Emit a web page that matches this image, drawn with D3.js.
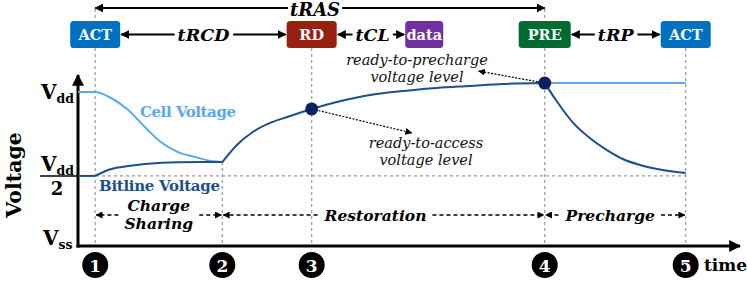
<!DOCTYPE html>
<html>
<head>
<meta charset="utf-8">
<script src="https://d3js.org/d3.v7.min.js"></script>
<style>
  body { margin: 0; padding: 0; background: #fff; }
  svg text { font-family: "DejaVu Serif", "Liberation Serif", serif; }
  .guide { stroke: #9a9a9a; stroke-width: 1.2; stroke-dasharray: 3,3; fill: none; }
  .axis { stroke: #000; stroke-width: 3; fill: none; }
</style>
</head>
<body>
<div id="chart"></div>
<script>
// time of each numbered event (0..100 along the time axis)
var eventTimes = [2.6, 21.8, 35.3, 70.5, 91.8];
var eventLabels = ["1", "2", "3", "4", "5"];

// DRAM commands on top
var commandNames = ["ACT", "RD", "data", "PRE", "ACT"];
var commandTimes = [2.6, 35.3, 52.3, 70.5, 91.8];

// timing parameters: [label, from command index, to command index]
var timingNames = ["tRCD", "tCL", "tRP"];
var timingFrom = [0, 1, 3];
var timingTo = [1, 2, 4];

// phases between events
var phaseNames = [["Charge", "Sharing"], ["Restoration"], ["Precharge"]];
var phaseFrom = [0, 1, 3];
var phaseTo = [1, 3, 4];

// voltage levels (Vss = 0, Vdd = 1)
var levelVss = 0, levelHalf = 0.455, levelVdd = 1;

// cell voltage during charge sharing
var cellT = [0, 2.6, 5.0, 7.6, 10.1, 12.5, 15.1, 17.7, 20.1, 21.8];
var cellV = [1.0, 1.0, 0.961, 0.883, 0.773, 0.675, 0.610, 0.578, 0.552, 0.545];
// bitline voltage: precharged level, then charge sharing
var bitFlatT = [0, 2.6];
var bitFlatV = [0.455, 0.455];
var bitT = [2.6, 5.0, 7.6, 10.1, 15.1, 21.8];
var bitV = [0.455, 0.5, 0.519, 0.532, 0.544, 0.545];
// restoration (cell and bitline together)
var restoreT = [21.8, 24.0, 26.4, 29.0, 31.6, 35.3, 39.1, 44.1, 49.1, 54.2, 59.2, 64.2, 70.5];
var restoreV = [0.545, 0.656, 0.740, 0.799, 0.838, 0.890, 0.935, 0.981, 1.006, 1.026, 1.039, 1.052, 1.058];
// precharge: bitline falls, cell holds
var prechT = [70.5, 72.4, 74.8, 77.3, 79.9, 82.3, 84.9, 87.5, 91.8];
var prechBitV = [1.058, 0.935, 0.799, 0.701, 0.623, 0.565, 0.526, 0.500, 0.474];
var holdT = [70.5, 91.8];
var holdV = [1.058, 1.058];

var width = 747, height = 281;

var x = d3.scaleLinear().domain([0, 100]).range([78, 740]);
var y = d3.scaleLinear().domain([0, 1]).range([246, 92]);

var cmdColor = { ACT: "#0070c0", RD: "#992010", data: "#7030a0", PRE: "#006b2e" };
var cmdWidth = { ACT: 50, RD: 50, data: 38, PRE: 52 };
var cellColor = "#5aa9f0", bitColor = "#1d4f8c", dotColor = "#0b2262";

var svg = d3.select("#chart").append("svg")
  .attr("width", width)
  .attr("height", height);

var defs = svg.append("defs");
function marker(id, size) {
  defs.append("marker")
    .attr("id", id)
    .attr("viewBox", "0 0 10 10")
    .attr("refX", 9).attr("refY", 5)
    .attr("markerWidth", size).attr("markerHeight", size)
    .attr("markerUnits", "userSpaceOnUse")
    .attr("orient", "auto-start-reverse")
    .append("path")
    .attr("d", "M0,0L10,5L0,10z")
    .attr("fill", "#000");
}
marker("arr", 9);
marker("arrS", 7);
marker("arrAxis", 12);

function zip(ts, vs) { return ts.map(function(t, i) { return [t, vs[i]]; }); }

var line = d3.line()
  .curve(d3.curveMonotoneX)
  .x(function(d) { return x(d[0]); })
  .y(function(d) { return y(d[1]); });

// vertical guides
var boxBottom = 48;
eventTimes.forEach(function(t, i) {
  var top = boxBottom;
  if (i == 1) top = y(cellV[cellV.length - 1]);
  svg.append("line").attr("class", "guide")
    .attr("x1", x(t)).attr("x2", x(t))
    .attr("y1", top).attr("y2", y(levelVss));
  if (i == 0 || i == 3) {
    svg.append("line").attr("class", "guide")
      .attr("x1", x(t)).attr("x2", x(t))
      .attr("y1", 9).attr("y2", 21);
  }
});
// Vdd/2 level
svg.append("line").attr("class", "guide")
  .attr("x1", x(0)).attr("x2", x(eventTimes[4]))
  .attr("y1", y(levelHalf)).attr("y2", y(levelHalf));

// axes
svg.append("line").attr("class", "axis")
  .attr("x1", x(0)).attr("x2", x(0))
  .attr("y1", y(levelVss) + 1.5).attr("y2", y(1.11))
  .attr("marker-end", "url(#arrAxis)");
svg.append("line").attr("class", "axis")
  .attr("x1", x(0) - 1.5).attr("x2", x(100))
  .attr("y1", y(levelVss)).attr("y2", y(levelVss))
  .attr("marker-end", "url(#arrAxis)");

// curves
function curve(ts, vs, color) {
  svg.append("path").datum(zip(ts, vs)).attr("d", line)
    .attr("fill", "none").attr("stroke", color).attr("stroke-width", 2);
}
curve(cellT, cellV, cellColor);
curve(holdT, holdV, cellColor);
curve(bitFlatT, bitFlatV, bitColor);
curve(bitT, bitV, bitColor);
curve(restoreT, restoreV, bitColor);
curve(prechT, prechBitV, bitColor);

// annotation arrows
var p3 = [x(eventTimes[2]), y(restoreV[5])];
var p4 = [x(eventTimes[3]), y(restoreV[restoreV.length - 1])];
svg.append("line")
  .attr("x1", p3[0]).attr("y1", p3[1]).attr("x2", p3[0] + 100).attr("y2", p3[1] + 24)
  .attr("stroke", "#000").attr("stroke-width", 1.2).attr("stroke-dasharray", "2,1.5")
  .attr("marker-end", "url(#arrS)");
svg.append("line")
  .attr("x1", p4[0]).attr("y1", p4[1]).attr("x2", p4[0] - 66).attr("y2", p4[1] - 12)
  .attr("stroke", "#000").attr("stroke-width", 1.2).attr("stroke-dasharray", "2,1.5")
  .attr("marker-end", "url(#arrS)");

// dots
[p3, p4].forEach(function(p) {
  svg.append("circle").attr("cx", p[0]).attr("cy", p[1]).attr("r", 6.5).attr("fill", dotColor);
});

function itext(txt, cx, base) {
  svg.append("text").attr("x", cx).attr("y", base)
    .attr("text-anchor", "middle").attr("font-style", "italic")
    .attr("font-size", 14.5).attr("fill", "#111").text(txt);
}
itext("ready-to-precharge", 417, 65);
itext("voltage level", 417, 82);
itext("ready-to-access", 426, 148);
itext("voltage level", 426, 165);

// curve labels
svg.append("text").attr("x", 140).attr("y", 117)
  .attr("font-weight", "bold").attr("font-size", 15).attr("fill", cellColor)
  .attr("textLength", 96).text("Cell Voltage");
svg.append("text").attr("x", 99).attr("y", 191)
  .attr("font-weight", "bold").attr("font-size", 15).attr("fill", bitColor)
  .attr("textLength", 121).text("Bitline Voltage");

// command boxes
var boxY = 21, boxH = 27;
var boxes = svg.selectAll(".cmd")
  .data(commandNames.map(function(n, i) { return { name: n, t: commandTimes[i] }; }))
  .enter().append("g").attr("class", "cmd")
  .attr("transform", function(d) { return "translate(" + x(d.t) + "," + boxY + ")"; });
boxes.append("rect")
  .attr("x", function(d) { return -cmdWidth[d.name] / 2; })
  .attr("width", function(d) { return cmdWidth[d.name]; })
  .attr("height", boxH).attr("rx", 3.5)
  .attr("fill", function(d) { return cmdColor[d.name]; });
boxes.append("text")
  .attr("y", 19).attr("text-anchor", "middle")
  .attr("font-weight", "bold").attr("font-size", 14.5).attr("fill", "#fff")
  .text(function(d) { return d.name; });

// timing arrows between boxes
var tY = 34.5;
timingNames.forEach(function(name, i) {
  var a = commandNames[timingFrom[i]], b = commandNames[timingTo[i]];
  var x1 = x(commandTimes[timingFrom[i]]) + cmdWidth[a] / 2 + 1;
  var x2 = x(commandTimes[timingTo[i]]) - cmdWidth[b] / 2 - 1;
  var cx = (x1 + x2) / 2;
  if (name == "tCL") cx = x1 + 35;
  var t = svg.append("text").attr("x", cx).attr("y", tY + 6.5)
    .attr("text-anchor", "middle").attr("font-weight", "bold").attr("font-style", "italic")
    .attr("font-size", 17.5).text(name);
  var bb = t.node().getBBox();
  svg.append("line").attr("x1", bb.x - 3).attr("x2", x1).attr("y1", tY).attr("y2", tY)
    .attr("stroke", "#000").attr("stroke-width", 2).attr("marker-end", "url(#arr)");
  svg.append("line").attr("x1", bb.x + bb.width + 3).attr("x2", x2).attr("y1", tY).attr("y2", tY)
    .attr("stroke", "#000").attr("stroke-width", 2).attr("marker-end", "url(#arr)");
});

// tRAS
(function() {
  var x1 = x(eventTimes[0]), x2 = x(eventTimes[3]), yy = 8;
  var t = svg.append("text").attr("x", 315).attr("y", yy + 7.5)
    .attr("text-anchor", "middle").attr("font-weight", "bold").attr("font-style", "italic")
    .attr("font-size", 18).text("tRAS");
  var bb = t.node().getBBox();
  svg.append("line").attr("x1", bb.x - 2).attr("x2", x1).attr("y1", yy).attr("y2", yy)
    .attr("stroke", "#000").attr("stroke-width", 2).attr("marker-end", "url(#arr)");
  svg.append("line").attr("x1", bb.x + bb.width + 2).attr("x2", x2).attr("y1", yy).attr("y2", yy)
    .attr("stroke", "#000").attr("stroke-width", 2).attr("marker-end", "url(#arr)");
})();

// phase labels with dashed arrows
var phY = 215;
phaseNames.forEach(function(lines, i) {
  var x1 = x(eventTimes[phaseFrom[i]]) + 1, x2 = x(eventTimes[phaseTo[i]]) - 1;
  var cx = (x1 + x2) / 2;
  if (i == 1) cx -= 8;
  if (i == 2) cx -= 5;
  var t = svg.append("text").attr("text-anchor", "middle")
    .attr("font-weight", "bold").attr("font-style", "italic").attr("font-size", 15.5);
  if (lines.length == 1) {
    t.append("tspan").attr("x", cx).attr("y", phY + 5.5).text(lines[0]);
  } else {
    t.append("tspan").attr("x", cx).attr("y", phY - 4).text(lines[0]);
    t.append("tspan").attr("x", cx).attr("y", phY + 14).text(lines[1]);
  }
  var bb = t.node().getBBox();
  svg.append("line").attr("x1", bb.x - 6).attr("x2", x1).attr("y1", phY).attr("y2", phY)
    .attr("stroke", "#000").attr("stroke-width", 1.6).attr("stroke-dasharray", "4,3")
    .attr("marker-end", "url(#arrS)");
  svg.append("line").attr("x1", bb.x + bb.width + 6).attr("x2", x2).attr("y1", phY).attr("y2", phY)
    .attr("stroke", "#000").attr("stroke-width", 1.6).attr("stroke-dasharray", "4,3")
    .attr("marker-end", "url(#arrS)");
});

// numbered event markers
var ev = svg.selectAll(".ev")
  .data(eventTimes).enter().append("g").attr("class", "ev")
  .attr("transform", function(d) { return "translate(" + x(d) + ",265)"; });
ev.append("circle").attr("r", 13).attr("fill", "#000");
ev.append("text").attr("y", 6.5).attr("text-anchor", "middle")
  .attr("font-weight", "bold").attr("font-size", 17).attr("fill", "#fff")
  .text(function(d, i) { return eventLabels[i]; });

svg.append("text").attr("x", 704).attr("y", 271)
  .attr("font-weight", "bold").attr("font-size", 17).text("time");

// y axis title
svg.append("text")
  .attr("transform", "translate(21,175) rotate(-90)")
  .attr("text-anchor", "middle").attr("font-weight", "bold").attr("font-size", 20.5)
  .text("Voltage");

// voltage level labels
function vlabel(sub, xx, base) {
  var t = svg.append("text").attr("x", xx).attr("y", base).attr("font-weight", "bold");
  t.append("tspan").attr("font-size", 20).text("V");
  t.append("tspan").attr("font-size", 12.5).attr("dy", 4).text(sub);
}
vlabel("dd", 41, y(levelVdd) + 7);
vlabel("dd", 41, y(levelHalf) - 5);
svg.append("line").attr("x1", 40).attr("x2", x(0)).attr("y1", y(levelHalf)).attr("y2", y(levelHalf))
  .attr("stroke", "#000").attr("stroke-width", 1.5);
svg.append("text").attr("x", 57).attr("y", y(levelHalf) + 19).attr("text-anchor", "middle")
  .attr("font-weight", "bold").attr("font-size", 18).text("2");
vlabel("ss", 43, y(levelVss) - 1);
</script>
</body>
</html>
